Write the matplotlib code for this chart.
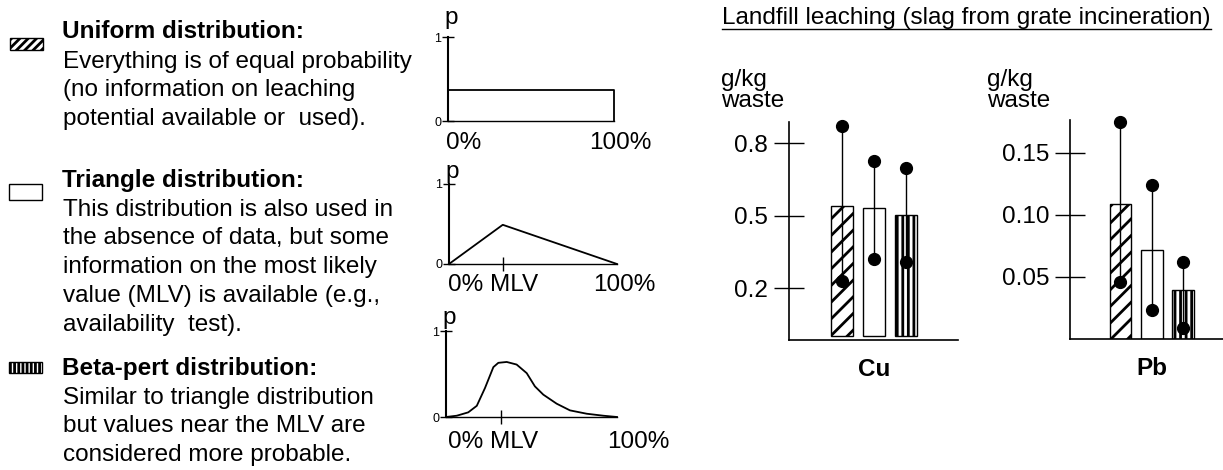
import matplotlib
matplotlib.use("Agg")
import matplotlib.pyplot as plt
from matplotlib.patches import Rectangle
from matplotlib.lines import Line2D

plt.rcParams['font.family'] = ['Liberation Sans', 'DejaVu Sans']
plt.rcParams['hatch.color'] = 'black'
plt.rcParams['hatch.linewidth'] = 2.0

W, H = 1223, 470
DPI = 100

# ---------------- data ----------------
dist_names = ["Uniform", "Triangle", "Beta-pert"]
hatches = ["//", "", "|||"]
icon_hatches = ["////", "", "||||"]

# distribution shapes (fraction of range, probability)
uniform_x = [0.0, 0.0, 1.0, 1.0]
uniform_p = [0.0, 0.37, 0.37, 0.0]
mlv = 0.32
tri_x = [0.0, 0.32, 1.0]
tri_p = [0.0, 0.49, 0.0]
beta_x = [0.0, 0.063, 0.13, 0.18, 0.228, 0.277, 0.306, 0.355, 0.413, 0.472,
          0.52, 0.569, 0.647, 0.725, 0.823, 0.92, 1.0]
beta_p = [0.0, 0.015, 0.054, 0.13, 0.337, 0.58, 0.63, 0.64, 0.61, 0.51,
          0.356, 0.26, 0.155, 0.077, 0.038, 0.015, 0.0]

# leaching results (g/kg waste)
metals = ["Cu", "Pb"]
cu_value = [0.541, 0.532, 0.504]
cu_low = [0.228, 0.321, 0.308]
cu_high = [0.870, 0.727, 0.697]
pb_value = [0.109, 0.072, 0.0396]
pb_low = [0.0457, 0.0237, 0.0086]
pb_high = [0.1747, 0.1242, 0.0624]
cu_ticks = [0.2, 0.5, 0.8]
cu_ticklabels = ["0.2", "0.5", "0.8"]
pb_ticks = [0.05, 0.10, 0.15]
pb_ticklabels = ["0.05", "0.10", "0.15"]

fig = plt.figure(figsize=(W / DPI, H / DPI), dpi=DPI)


def fx(px):
    return px / W


def fy(py):
    return 1 - py / H


def add_ax(left, top, right, bottom):
    return fig.add_axes([fx(left), fy(bottom), (right - left) / W, (bottom - top) / H])


FS = 17.5

# ---------------- legend text on the left ----------------
blocks = [
    (32, "Uniform distribution:",
     ["Everything is of equal probability", "(no information on leaching",
      "potential available or  used)."], (10, 38, 43, 50), icon_hatches[0]),
    (180, "Triangle distribution:",
     ["This distribution is also used in", "the absence of data, but some",
      "information on the most likely", "value (MLV) is available (e.g.,",
      "availability  test)."], (9, 184, 42, 200), icon_hatches[1]),
    (368, "Beta-pert distribution:",
     ["Similar to triangle distribution", "but values near the MLV are",
      "considered more probable."], (9, 362, 42, 373), icon_hatches[2]),
]
for ytitle, title, lines, box, h in blocks:
    fig.text(fx(62), fy(ytitle), title, fontsize=FS, fontweight='bold', va='center', ha='left')
    for i, ln in enumerate(lines):
        fig.text(fx(63), fy(ytitle + 29 * (i + 1) + (1 if i == 0 else 0)), ln, fontsize=FS,
                 va='center', ha='left')
    x0, y0, x1, y1 = box
    fig.patches.append(Rectangle((fx(x0), fy(y1)), fx(x1) - fx(x0), (y1 - y0) / H,
                                 transform=fig.transFigure, facecolor='white',
                                 edgecolor='black', hatch=h, linewidth=1.0))

# ---------------- small distribution plots ----------------
small = [
    (uniform_x, uniform_p, (448, 37, 614, 121), False, 18, 143,
     [("0%", 464), ("100%", 620)]),
    (tri_x, tri_p, (449, 184, 617, 264), True, 172, 285,
     [("0% MLV", 493), ("100%", 624)]),
    (beta_x, beta_p, (446, 331, 617, 417), True, 318, 442,
     [("0% MLV", 493), ("100%", 638)]),
]
for xs, ps, (l, t, r, b), show_mlv, py, ly, labels in small:
    ax = add_ax(l, t, r, b)
    ax.plot(xs, ps, color='black', lw=1.3, clip_on=False)
    ax.set_xlim(0, 1)
    ax.set_ylim(0, 1)
    for s in ['top', 'right']:
        ax.spines[s].set_visible(False)
    ax.spines['left'].set_linewidth(1.5)
    ax.spines['bottom'].set_linewidth(1.0)
    ax.set_yticks([0, 1], ['0', '1'])
    ax.tick_params(axis='y', direction='inout', length=8, width=1, labelsize=9, pad=1)
    if show_mlv:
        ax.set_xticks([mlv], [''])
        ax.tick_params(axis='x', direction='inout', length=10, width=1)
    else:
        ax.set_xticks([])
    ax.set_facecolor('none')
    fig.text(fx(l + 3), fy(py), "p", fontsize=FS, ha='center', va='center')
    for txt, cx in labels:
        fig.text(fx(cx), fy(ly), txt, fontsize=FS, ha='center', va='center')

# ---------------- bar charts ----------------
title = fig.text(fx(722), fy(18), "Landfill leaching (slag from grate incineration)",
                 fontsize=FS, ha='left', va='center')


def bar_panel(left, right, top, bottom, xlim, ylim, values, lows, highs, ticks,
              ticklabels, name, ylab_x):
    ax = add_ax(left, top, right, bottom)
    pos = [0, 1, 2]
    for p, v, h in zip(pos, values, hatches):
        ax.bar(p, v, width=0.69, facecolor='white', edgecolor='black', hatch=h,
               linewidth=1.0, zorder=2)
    for p, lo, hi in zip(pos, lows, highs):
        ax.plot([p, p], [lo, hi], color='black', lw=1.0, zorder=3)
        ax.plot([p, p], [lo, hi], 'o', color='black', ms=8.5, zorder=4, clip_on=False)
    ax.set_xlim(*xlim)
    ax.set_ylim(*ylim)
    for s in ['top', 'right']:
        ax.spines[s].set_visible(False)
    ax.spines['left'].set_linewidth(1.2)
    ax.spines['bottom'].set_linewidth(1.2)
    ax.set_yticks(ticks, ticklabels)
    ax.tick_params(axis='y', direction='inout', length=22, width=1, labelsize=FS, pad=4)
    ax.set_xticks([1], [name])
    ax.tick_params(axis='x', length=0, labelsize=FS, pad=13)
    for lab in ax.get_xticklabels():
        lab.set_fontweight('bold')
    ax.set_facecolor('none')
    fig.text(fx(ylab_x), fy(80), "g/kg", fontsize=FS, ha='left', va='center')
    fig.text(fx(ylab_x), fy(101), "waste", fontsize=FS, ha='left', va='center')
    return ax


bar_panel(789, 958, 122, 340, (-1.66, 3.63), (-0.015, 0.887), cu_value, cu_low, cu_high,
          cu_ticks, cu_ticklabels, metals[0], 721)
bar_panel(1070, 1240, 120, 339, (-1.6, 3.8), (0.0, 0.1766), pb_value, pb_low, pb_high,
          pb_ticks, pb_ticklabels, metals[1], 987)

fig.canvas.draw()
bb = title.get_window_extent()
x0, x1 = bb.x0 / W, bb.x1 / W
yline = fy(29)
fig.add_artist(Line2D([x0, x1], [yline, yline], transform=fig.transFigure,
                      color='black', lw=1.0))

fig.savefig("out.png", dpi=DPI)
